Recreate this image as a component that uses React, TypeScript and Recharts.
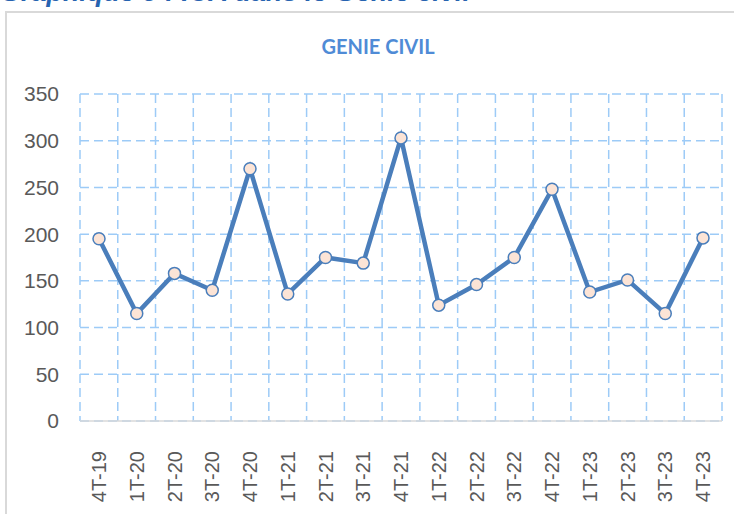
import { LineChart, Line, XAxis, YAxis, CartesianGrid } from "recharts";

const quarters = [
  "4T-19", "1T-20", "2T-20", "3T-20", "4T-20", "1T-21", "2T-21", "3T-21", "4T-21",
  "1T-22", "2T-22", "3T-22", "4T-22", "1T-23", "2T-23", "3T-23", "4T-23",
];
const ica = [195, 115, 158, 140, 270, 136, 175, 169, 303, 124, 146, 175, 248, 138, 151, 115, 196];
const yTicks = [0, 50, 100, 150, 200, 250, 300, 350];

const data = quarters.map((q, i) => ({ q, ica: ica[i] }));

const QuarterTick = (props: any) => {
  const { x, y, payload } = props;
  return (
    <text
      x={x}
      y={y + 22}
      transform={`rotate(-90, ${x}, ${y + 22})`}
      textAnchor="end"
      dominantBaseline="central"
      fill="#595959"
      fontSize={20}
      fontFamily="Liberation Sans, Arial, sans-serif"
    >
      {payload.value}
    </text>
  );
};

export default function App() {
  return (
    <div style={{ position: "absolute", left: 0, top: 0, width: 734, height: 514, overflow: "hidden", background: "#fff" }}>
      <div
        style={{
          position: "absolute",
          left: 0,
          top: -23,
          fontFamily: "Liberation Sans, Arial, sans-serif",
          fontWeight: "bold",
          fontStyle: "italic",
          fontSize: 27,
          color: "#2763B0",
          whiteSpace: "nowrap",
        }}
      >
        Graphique 5 : ICA dans le Génie civil
      </div>
      <div
        style={{
          position: "absolute",
          left: 5,
          top: 11,
          width: 740,
          height: 520,
          borderLeft: "2px solid #D9D9D9",
          borderTop: "2px solid #D9D9D9",
        }}
      />
      <div
        style={{
          position: "absolute",
          left: 278,
          top: 34,
          width: 200,
          textAlign: "center",
          fontFamily: "Lato, sans-serif",
          fontWeight: "bold",
          fontSize: 20,
          color: "#4F8BD6",
        }}
      >
        GENIE CIVIL
      </div>
      <div style={{ position: "absolute", left: 0, top: 0 }}>
        <LineChart width={734} height={514} data={data} margin={{ top: 94, right: 12, bottom: 0, left: 0 }}>
          <CartesianGrid
            stroke="#9DCBF7"
            strokeWidth={1.5}
            strokeDasharray="9 5"
            verticalCoordinatesGenerator={({ offset }: any) =>
              quarters.map((_, i) => offset.left + (offset.width * i) / quarters.length).concat(offset.left + offset.width)
            }
          />
          <XAxis
            dataKey="q"
            height={93}
            interval={0}
            padding={{ left: 19, right: 19 }}
            tick={<QuarterTick />}
            tickLine={false}
            axisLine={{ stroke: "#D9D9D9", strokeWidth: 1.5 }}
          />
          <YAxis
            width={80}
            domain={[0, 350]}
            ticks={yTicks}
            axisLine={false}
            tickLine={false}
            tickSize={0}
            tickMargin={21}
            tick={{ fill: "#595959", fontSize: 21, fontFamily: "Liberation Sans, Arial, sans-serif" }}
          />
          <Line
            type="linear"
            dataKey="ica"
            stroke="#4A7EBB"
            strokeWidth={4.5}
            dot={{ r: 6, fill: "#FCE4D6", stroke: "#4A7EBB", strokeWidth: 1.5 }}
            isAnimationActive={false}
          />
        </LineChart>
      </div>
    </div>
  );
}
